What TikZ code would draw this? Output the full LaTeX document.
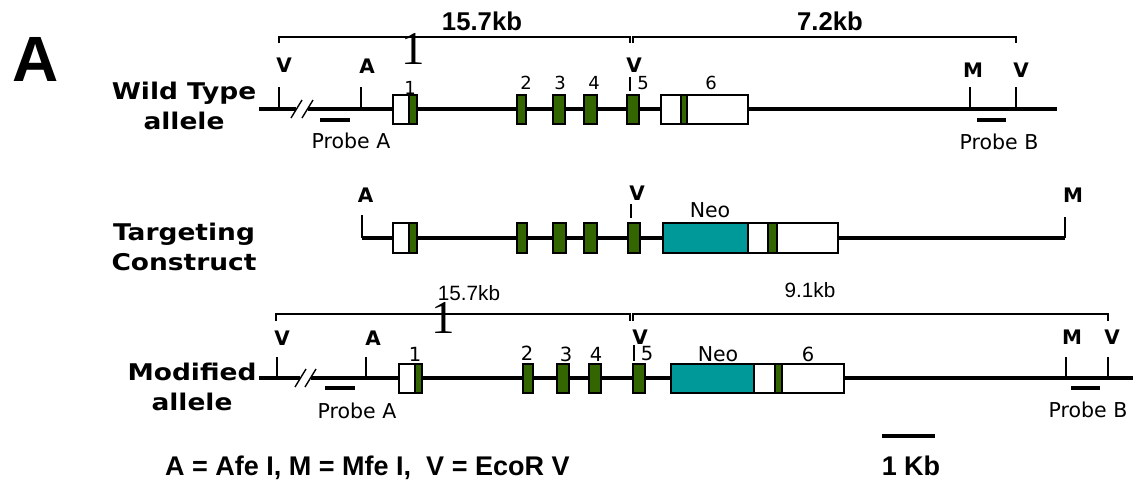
\documentclass[tikz,border=0pt]{standalone}
\usepackage{fontspec}
\setmainfont{DejaVu Sans}
\newfontfamily\rowface[FakeStretch=1.15]{DejaVu Sans}
\newfontfamily\arialface{Liberation Sans}
\newfontfamily\timesface{Liberation Serif}

\definecolor{exongreen}{HTML}{336600}
\definecolor{neoteal}{HTML}{009999}

\tikzset{
  dna/.style={line width=3.3pt},
  cut/.style={line width=1.4pt},
  probe/.style={line width=3.4pt},
  bracket/.style={line width=2.2pt},
  exon/.style={draw=black, line width=1.2pt, fill=exongreen},
  utr/.style={draw=black, line width=1.2pt, fill=white},
  neobox/.style={draw=black, line width=1.2pt, fill=neoteal},
  rowlab/.style={font=\rowface\bfseries\fontsize{23}{30}\selectfont,
                 align=center, inner sep=0pt},
  sitelab/.style={font=\bfseries\fontsize{20}{22}\selectfont, inner sep=0pt},
  smalllab/.style={font=\fontsize{20.5}{24}\selectfont, inner sep=0pt},
  numlab/.style={font=\fontsize{18}{20}\selectfont, inner sep=0pt},
  kblab/.style={font=\arialface\fontsize{20.7}{24}\selectfont, inner sep=0pt},
  glitch/.style={font=\timesface\fontsize{47}{47}\selectfont, inner sep=0pt},
}

\begin{document}
\begin{tikzpicture}[x=1pt, y=-1pt]
\useasboundingbox (0,0) rectangle (1133,482);

% panel letter
\node[font=\arialface\bfseries\fontsize{64}{64}\selectfont, inner sep=0pt]
  (panelA) at (35.5,59) {A};

% ============================================================ wild type
\node[rowlab] (wtlab) at (184,106) {Wild Type\\allele};

% fragment sizes
\draw[bracket] (279,43) -- (279,37) -- (630,37) -- (630,43);
\draw[bracket] (633,43) -- (633,37) -- (1016,37) -- (1016,43);
\node[kblab, font=\arialface\bfseries\fontsize{25.7}{28}\selectfont]
  (wtkbL) at (482,21) {15.7kb};
\node[kblab, font=\arialface\bfseries\fontsize{25.7}{28}\selectfont]
  (wtkbR) at (830,21) {7.2kb};
\node[glitch] (wtone) at (413,49) {1};

% the locus, broken on the left
\draw[dna] (259,109) -- (296,109);
\draw[dna] (308,109) -- (1057,109);
\draw[cut] (291,118) -- (302,100);
\draw[cut] (302,118) -- (313,100);
\foreach \x in {279,361,970,1016}
  \draw[cut] (\x,87) -- (\x,109);
\draw[cut] (630,77) -- (630,91);

% exons
\draw[utr] (393,95) rectangle (409,124);
\foreach \a/\b in {409/417, 517/526, 553/565, 584/597, 627/639}
  \draw[exon] (\a,95) rectangle (\b,124);
\draw[utr] (661,95) rectangle (748,124);
\draw[exon] (681,95) rectangle (687,124);
\foreach \n/\x/\y in {1/410/88, 2/526/83, 3/560/83, 4/594/83, 5/643/83, 6/711/83}
  \node[numlab] (wtex\n) at (\x,\y) {\n};

% sites and probes
\node[sitelab] (wtV1) at (284,65.5) {V};
\node[sitelab] (wtA) at (367,66) {A};
\node[sitelab] (wtV2) at (634,65.5) {V};
\node[sitelab] (wtM) at (973,70) {M};
\node[sitelab] (wtV3) at (1021,70) {V};
\draw[probe] (320,120) -- (350,120);
\draw[probe] (977,120) -- (1006,120);
\node[smalllab] (wtprA) at (351,141) {Probe A};
\node[smalllab] (wtprB) at (999,142) {Probe B};

% ================================================== targeting construct
\node[rowlab] (tclab) at (184,247) {Targeting\\Construct};

\draw[dna] (362,238) -- (1065,238);
\draw[cut] (362,215) -- (362,238);
\draw[cut] (1065,217) -- (1065,238);
\draw[cut] (631,204) -- (631,218);

\draw[utr] (393,223) rectangle (409,253);
\foreach \a/\b in {409/417, 517/527, 553/566, 584/597, 628/640}
  \draw[exon] (\a,223) rectangle (\b,253);
\draw[neobox] (663,223) rectangle (748,253);
\draw[utr] (748,223) rectangle (768,253);
\draw[exon] (768,223) rectangle (777,253);
\draw[utr] (777,223) rectangle (838,253);

\node[sitelab] (tcA) at (365.5,195) {A};
\node[sitelab] (tcV) at (637,193) {V};
\node[sitelab] (tcM) at (1073,195) {M};
\node[smalllab] (tcneo) at (710,210) {Neo};

% ======================================================= modified allele
\node[rowlab] (molab) at (192,386.5) {Modified\\allele};

\draw[bracket, line width=1.8pt] (276,321) -- (276,314) -- (630,314) -- (630,321);
\draw[bracket, line width=1.8pt] (633,321) -- (633,314) -- (1108,314) -- (1108,321);
\node[kblab] (mokbL) at (469,293) {15.7kb};
\node[kblab] (mokbR) at (810,290) {9.1kb};
\node[glitch] (moone) at (443,317.5) {1};

\draw[dna] (259,378) -- (300,378);
\draw[dna] (311,378) -- (1133,378);
\draw[cut] (295,387) -- (306,369);
\draw[cut] (305,387) -- (316,369);
\foreach \x in {277,366,1066,1108}
  \draw[cut] (\x,357) -- (\x,378);
\draw[cut] (634,345) -- (634,361);

\draw[utr] (399,364) rectangle (415,393);
\foreach \a/\b in {415/422, 523/533, 557/569, 589/601, 633/645}
  \draw[exon] (\a,364) rectangle (\b,393);
\draw[neobox] (671,364) rectangle (754,393);
\draw[utr] (754,364) rectangle (775,393);
\draw[exon] (775,364) rectangle (782,393);
\draw[utr] (782,364) rectangle (844,393);
\foreach \n/\x/\y in {1/415/354, 2/527/353, 3/566/354, 4/596/354, 5/647/354, 6/808/354}
  \node[numlab, font=\fontsize{19.5}{22}\selectfont] (moex\n) at (\x,\y) {\n};
\node[smalllab] (moneo) at (718,354) {Neo};

\node[sitelab] (moV1) at (282,338) {V};
\node[sitelab] (moA) at (373,338) {A};
\node[sitelab] (moV2) at (640,337) {V};
\node[sitelab] (moM) at (1072,337) {M};
\node[sitelab] (moV3) at (1112,337) {V};
\draw[probe] (325,388) -- (355,388);
\draw[probe] (1071,388) -- (1100,388);
\node[smalllab] (moprA) at (357,410.5) {Probe A};
\node[smalllab] (moprB) at (1088,410) {Probe B};

% ================================================== key and scale bar
\node[font=\arialface\bfseries\fontsize{27}{30}\selectfont, anchor=base west,
  inner sep=0pt] (key) at (165,475) {A = Afe I, M = Mfe I,\ \ V = EcoR V};
\draw[probe] (882,436) -- (935,436);
\node[font=\arialface\bfseries\fontsize{27}{30}\selectfont, anchor=base,
  inner sep=0pt] (scalelab) at (911,475) {1 Kb};

\end{tikzpicture}
\end{document}
